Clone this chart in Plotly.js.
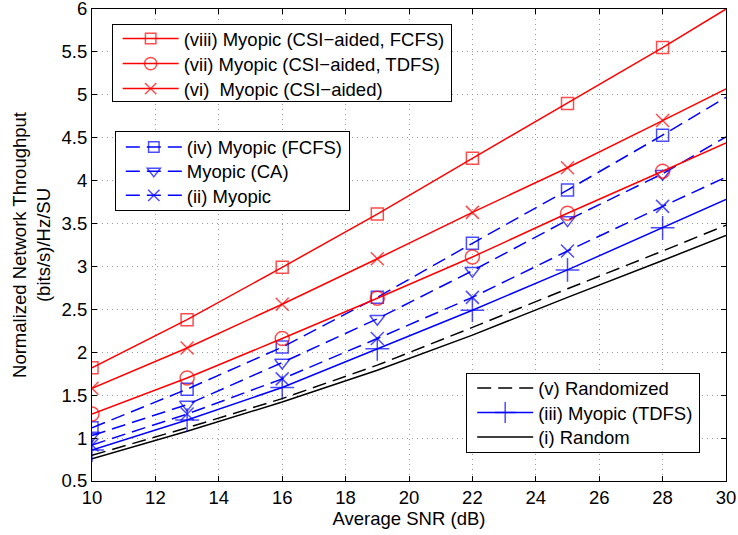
<!DOCTYPE html>
<html>
<head>
<meta charset="utf-8">
<script src="https://cdn.plot.ly/plotly-3.0.1.min.js"></script>
<style>html,body{margin:0;padding:0;background:#fff;}#chart{width:738px;height:535px;}</style>
</head>
<body>
<div id="chart"></div>
<script>
// SNR grid (dB)
const snr = [10, 13, 16, 19, 22, 25, 28, 30];
// marker shown at every point except the curve end at 30 dB
const markerMask = [1, 1, 1, 1, 1, 1, 1, 0];

// series values (normalized throughput, (bits/s)/Hz/SU)
const viii_csiFcfs = [1.82, 2.38, 2.99, 3.61, 4.26, 4.90, 5.55, 6.00];
const vii_csiTdfs  = [1.28, 1.70, 2.16, 2.63, 3.11, 3.62, 4.11, 4.44];
const vi_csi       = [1.58, 2.05, 2.56, 3.09, 3.63, 4.15, 4.70, 5.07];
const iv_fcfs      = [1.12, 1.57, 2.06, 2.64, 3.27, 3.89, 4.53, 4.97];
const ca           = [1.03, 1.39, 1.88, 2.39, 2.95, 3.54, 4.08, 4.51];
const ii_myopic    = [0.92, 1.28, 1.69, 2.16, 2.64, 3.18, 3.70, 4.04];
const iii_tdfs     = [0.86, 1.21, 1.59, 2.04, 2.49, 2.96, 3.45, 3.78];
const v_randomized = [0.80, 1.12, 1.46, 1.85, 2.29, 2.74, 3.18, 3.48];
const i_random     = [0.76, 1.08, 1.42, 1.79, 2.20, 2.64, 3.07, 3.36];

// tick labels
const xTicks = [10, 12, 14, 16, 18, 20, 22, 24, 26, 28, 30];
const yTicks = [0.5, 1, 1.5, 2, 2.5, 3, 3.5, 4, 4.5, 5, 5.5, 6];

// legend labels
const names = {
  viii: '(viii) Myopic (CSI\u2212aided, FCFS)',
  vii: '(vii) Myopic (CSI\u2212aided, TDFS)',
  vi: '(vi)  Myopic (CSI\u2212aided)',
  iv: '(iv) Myopic (FCFS)',
  ca: 'Myopic (CA)',
  ii: '(ii) Myopic',
  v: '(v) Randomized',
  iii: '(iii) Myopic (TDFS)',
  i: '(i) Random'
};

const RED = '#ff0000', BLUE = '#0000ff', BLACK = '#000000';
const DASH = '14px,7px';

function tr(y, name, color, symbol, size, dash, legend) {
  const t = {
    x: snr, y: y, name: name, type: 'scatter',
    mode: symbol ? 'lines+markers' : 'lines',
    line: {color: color, width: 1.5, dash: dash || 'solid'},
    legend: legend
  };
  if (symbol) {
    t.marker = {symbol: symbol, size: markerMask.map(m => m ? size : 0), color: color,
                line: {color: color, width: 1.5}};
  }
  return t;
}

const data = [
  tr(i_random, names.i, BLACK, null, 0, 'solid', 'legend3'),
  tr(iii_tdfs, names.iii, BLUE, 'cross-thin-open', 17, 'solid', 'legend3'),
  tr(v_randomized, names.v, BLACK, null, 0, DASH, 'legend3'),
  tr(ii_myopic, names.ii, BLUE, 'x-thin-open', 13, DASH, 'legend2'),
  tr(ca, names.ca, BLUE, 'triangle-down-open', 13, DASH, 'legend2'),
  tr(iv_fcfs, names.iv, BLUE, 'square-open', 12, DASH, 'legend2'),
  tr(vi_csi, names.vi, RED, 'x-thin-open', 13, 'solid', 'legend'),
  tr(vii_csiTdfs, names.vii, RED, 'circle-open', 14, 'solid', 'legend'),
  tr(viii_csiFcfs, names.viii, RED, 'square-open', 12, 'solid', 'legend')
];

const FONT = 'Liberation Sans, Arial, Helvetica, sans-serif';
const FS = 18.5;
const legendBase = {
  bgcolor: '#ffffff', bordercolor: '#000000', borderwidth: 1,
  font: {family: FONT, size: FS, color: '#000'},
  xanchor: 'left', yanchor: 'top', itemwidth: 56, traceorder: 'reversed',
  tracegroupgap: 0
};

const axisBase = {
  showline: true, linecolor: '#000', linewidth: 1, mirror: 'ticks',
  ticks: 'inside', ticklen: 5, tickcolor: '#000', tickwidth: 1,
  showgrid: true, gridcolor: '#9a9a9a', gridwidth: 1, griddash: '1px,4px',
  zeroline: false, ticklabeloverflow: 'allow',
  tickfont: {family: FONT, size: FS, color: '#000'}
};

const layout = {
  width: 738, height: 535,
  margin: {l: 92, r: 12, t: 9, b: 54},
  paper_bgcolor: '#fff', plot_bgcolor: '#fff',
  font: {family: FONT, size: FS, color: '#000'},
  showlegend: true,
  xaxis: Object.assign({}, axisBase, {
    range: [10, 30], tickmode: 'array', tickvals: xTicks, ticktext: xTicks.map(String),
    title: {text: 'Average SNR (dB)', font: {family: FONT, size: FS}, standoff: 2}
  }),
  yaxis: Object.assign({}, axisBase, {
    range: [0.5, 6], tickmode: 'array', tickvals: yTicks, ticktext: yTicks.map(String),
    title: {text: 'Normalized Network Throughput<br>(bits/s)/Hz/SU', font: {family: FONT, size: FS}, standoff: 6}
  }),
  legend: Object.assign({}, legendBase, {x: 0.031, y: 0.9686}),
  legend2: Object.assign({}, legendBase, {x: 0.036, y: 0.7405}),
  legend3: Object.assign({}, legendBase, {x: 0.5902, y: 0.2284})
};

// tighten legend boxes to the compact MATLAB-style spacing
function tidyLegend(leg, o) {
  const bg = leg.querySelector('rect.bg');
  const items = Array.from(leg.querySelectorAll('g.traces')).filter(t => t.querySelector('text'));
  if (!bg || !items.length) return;
  const parse = t => {
    const m = /translate\(\s*([-\d.e]+)[ ,]+([-\d.e]+)\s*\)/.exec(t.getAttribute('transform') || '');
    return m ? [Number(m[1]), Number(m[2])] : [0, 0];
  };
  items.sort((a, b) => parse(a)[1] - parse(b)[1]);
  const p0 = parse(items[0]);
  const boxTop = bg.getBoundingClientRect().top;
  const tb = items[0].querySelector('text').getBoundingClientRect();
  const c0 = (tb.top + tb.bottom) / 2 - boxTop;
  const y0 = p0[1] + (o.top - c0);
  items.forEach((t, i) => t.setAttribute('transform', 'translate(' + (p0[0] + o.dx) + ',' + (y0 + i * o.step) + ')'));
  const w = parseFloat(bg.getAttribute('width')) + o.dw;
  const h = o.top + (items.length - 1) * o.step + o.bottom;
  bg.setAttribute('width', w);
  bg.setAttribute('height', h);
  const sb = leg.querySelector('g.scrollbox');
  const cp = sb && sb.getAttribute('clip-path');
  if (cp) {
    const mm = cp.match(/#([^)"']+)/);
    const el = mm && document.getElementById(mm[1]);
    const r = el && el.querySelector('rect');
    if (r) { r.setAttribute('width', w + 20); r.setAttribute('height', h + 20); }
  }
}

Plotly.newPlot('chart', data, layout, {displayModeBar: false, staticPlot: true}).then(function (gd) {
  const opts = {
    legend: {top: 15, step: 25, bottom: 12.5, dx: 5, dw: 6},
    legend2: {top: 15.7, step: 24.2, bottom: 14.3, dx: 5, dw: 6},
    legend3: {top: 15, step: 24.5, bottom: 15, dx: 5, dw: 6}
  };
  ['legend', 'legend2', 'legend3'].forEach(function (cls) {
    gd.querySelectorAll('g.' + cls).forEach(function (leg) {
      try {
        if (leg.querySelector('rect.bg') && leg.querySelector('g.traces')) tidyLegend(leg, opts[cls]);
      } catch (e) { /* leave the legend as Plotly drew it */ }
    });
  });
});
</script>
</body>
</html>
